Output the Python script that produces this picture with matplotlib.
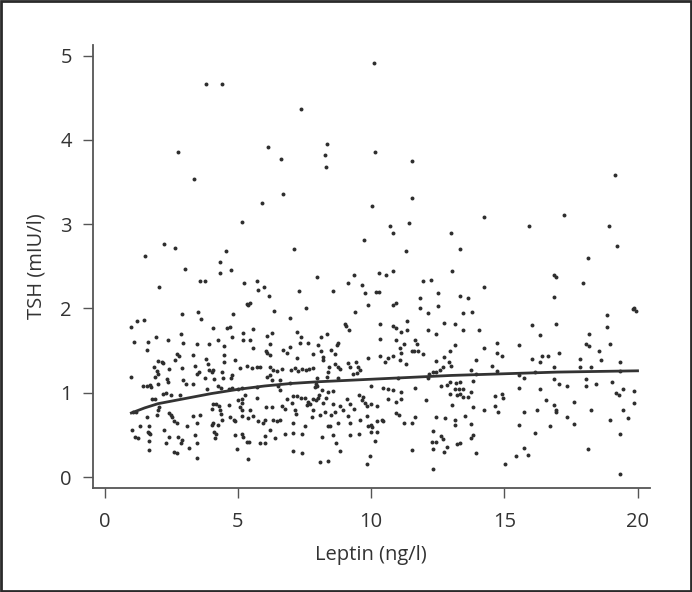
import matplotlib
matplotlib.use("Agg")
import matplotlib.pyplot as plt
from matplotlib.patches import Rectangle

# leptin (ng/l) and TSH (mIU/l), grouped by strip
leptin = [
    # 1-3
    2.05, 2.91, 1.22, 1.48, 1.00, 1.11, 1.64, 1.92, 2.39, 2.86, 2.95, 1.58, 2.70, 2.79, 2.63, 2.01, 2.14, 2.20, 1.86, 1.95,
    2.41, 2.91, 1.00, 1.89, 2.01, 2.33, 2.36, 2.95, 3.05, 1.45, 1.58, 1.70, 1.73, 2.01, 2.18, 2.30, 2.49, 1.76, 1.89, 2.83,
    1.08, 1.18, 2.01, 2.05, 2.43, 2.49, 2.52, 2.60, 2.70, 1.58, 1.95, 3.10, 1.01, 1.33, 1.68, 1.61, 1.66, 1.70, 1.14, 1.26,
    2.24, 2.43, 2.76, 2.89, 2.86, 1.68, 2.29, 1.65, 2.60, 2.73, 3.18,
    # 3-6.6
    3.58, 3.76, 5.24, 5.76, 5.98, 6.18, 5.33, 5.45, 5.39, 3.52, 3.60, 4.80, 6.35, 4.08, 4.60, 4.70, 5.20, 5.58, 6.08, 6.27,
    3.45, 3.93, 4.27, 4.48, 4.77, 5.20, 5.45, 5.58, 6.05, 6.11, 6.20, 6.20, 3.33, 3.81, 3.86, 4.48, 4.49, 4.89, 5.08, 5.33,
    5.52, 5.70, 5.83, 3.38, 3.48, 3.55, 3.93, 4.01, 4.08, 4.39, 4.76, 6.20, 6.30, 6.48, 3.77, 4.10, 4.43, 4.73, 3.33, 3.83,
    4.27, 4.35, 6.08, 6.20, 6.27, 4.68, 4.76, 5.01, 5.16, 5.70, 6.49, 4.08, 4.18, 4.30, 4.68, 5.01, 5.14, 5.17, 5.26, 5.45,
    5.70, 6.05, 6.27, 4.01, 4.33, 4.36, 5.08, 5.14, 3.30, 3.58, 3.45, 4.05, 4.01, 4.27, 4.39, 4.72, 4.86, 4.89, 5.17, 5.39,
    5.58, 5.76, 5.95, 6.01, 6.30, 6.48, 6.58, 3.39, 3.45, 4.10, 4.18, 4.14, 4.89, 5.14, 5.20, 5.33, 5.43, 6.01, 6.20, 5.83,
    6.01, 6.39, 4.98, 3.48, 5.37,
    # 6.6-10
    7.29, 8.58, 9.14, 9.64, 9.76, 9.89, 7.55, 6.95, 9.39, 9.02, 9.05, 9.18, 7.23, 7.35, 7.64, 8.11, 8.36, 6.68, 6.85, 6.95,
    7.33, 7.83, 8.01, 8.10, 8.18, 8.20, 8.51, 8.64, 8.76, 8.73, 9.89, 7.23, 6.64, 6.99, 7.15, 7.27, 7.39, 7.55, 7.68, 7.80,
    8.43, 8.39, 8.64, 8.76, 8.83, 9.14, 9.20, 9.51, 9.58, 9.45, 9.33, 9.48, 6.58, 6.95, 7.95, 8.76, 8.33, 7.93, 7.95, 7.89,
    8.14, 8.39, 8.58, 6.58, 7.08, 7.23, 7.35, 7.52, 7.83, 7.93, 8.01, 8.05, 7.64, 7.58, 7.70, 6.83, 7.02, 7.14, 7.18, 6.64,
    6.77, 8.20, 8.30, 8.58, 9.08, 9.20, 9.35, 9.64, 9.70, 9.76, 9.85, 9.55, 7.83, 8.08, 8.27, 8.51, 8.64, 8.83, 8.96, 7.08,
    7.52, 7.77, 8.39, 8.45, 8.76, 9.14, 9.20, 9.58, 9.83, 9.89, 6.77, 7.08, 7.39, 8.14, 8.58, 9.20, 9.55, 8.70, 8.83, 7.05,
    7.39, 8.08, 8.39, 9.85,
    # 10-13.3
    11.93, 12.23, 10.20, 10.30, 12.52, 11.83, 13.33, 10.83, 10.93, 11.83, 12.14, 12.52, 10.33, 12.73, 13.13, 10.33, 10.83, 10.93, 11.14, 11.33,
    11.33, 12.14, 12.43, 10.93, 11.23, 11.10, 11.14, 11.64, 11.73, 11.52, 11.60, 11.77, 11.95, 10.33, 13.14, 12.95, 10.52, 10.64, 10.83, 11.10,
    11.30, 12.45, 12.73, 12.93, 13.01, 12.70, 12.58, 12.45, 12.33, 12.18, 12.14, 10.01, 10.43, 10.64, 10.83, 11.14, 11.00, 11.64, 12.64, 12.83,
    12.95, 13.18, 13.14, 13.30, 13.35, 12.95, 13.23, 10.64, 10.93, 11.14, 12.05, 10.01, 10.23, 13.05, 10.95, 11.05, 11.64, 11.52, 11.23, 12.45,
    12.77, 13.14, 13.14, 10.23, 10.39, 10.45, 10.01, 10.05, 10.01, 10.23, 12.33, 12.64, 12.70, 12.45, 12.27, 10.14, 12.83, 13.23, 13.33, 12.33,
    12.73, 11.55, 9.95, 12.33,
    # 13.3-16.7
    14.23, 13.64, 13.45, 13.77, 13.45, 14.05, 16.05, 16.35, 14.23, 14.73, 15.55, 14.73, 14.93, 13.93, 16.05, 16.35, 16.43, 16.65, 14.54, 13.74,
    13.95, 14.74, 15.55, 15.73, 16.14, 13.83, 13.45, 13.74, 13.33, 13.43, 13.64, 14.64, 14.93, 14.95, 15.55, 16.35, 16.55, 13.83, 14.64, 14.23,
    14.77, 15.73, 16.23, 13.54, 13.74, 15.55, 16.73, 13.83, 13.74, 16.14, 13.93, 15.73, 15.45, 15.87, 15.04,
    # 16.7-20
    17.95, 16.85, 16.95, 18.85, 18.85, 19.83, 19.93, 19.86, 18.17, 18.05, 18.17, 18.95, 17.05, 18.55, 17.85, 18.64, 16.85, 17.85, 18.27, 19.35,
    19.35, 16.85, 17.05, 17.35, 18.05, 18.05, 18.45, 19.05, 19.45, 19.20, 19.32, 19.86, 19.85, 17.62, 16.85, 16.95, 16.95, 18.25, 19.45, 17.35,
    17.62, 18.95, 19.64, 19.35, 18.15, 19.35,
    # high TSH
    10.12, 3.79, 4.39, 7.35, 8.33, 6.14, 8.25, 8.30, 2.75, 10.13, 6.62, 11.52, 3.34, 6.69, 19.16, 11.52, 5.91, 10.03, 14.24, 17.24,
    5.17, 11.44, 10.71, 15.93, 18.94, 10.81, 13.01, 9.74, 19.24, 2.22, 2.65, 7.12, 13.34, 11.31, 4.57, 1.51, 18.15, 4.34, 3.03, 4.74,
    4.31, 10.83, 13.03, 10.31, 9.37, 10.55, 16.87, 16.94, 7.95, 5.70,
]
tsh = [
    # 1-3
    2.26, 1.93, 1.85, 1.86, 1.78, 1.60, 1.60, 1.66, 1.62, 1.70, 1.59, 1.51, 1.46, 1.44, 1.39, 1.38, 1.36, 1.35, 1.30, 1.26,
    1.28, 1.29, 1.19, 1.19, 1.22, 1.16, 1.13, 1.15, 1.10, 1.08, 1.08, 1.09, 1.07, 1.10, 0.98, 1.00, 0.97, 0.92, 0.92, 0.97,
    0.77, 0.77, 0.80, 0.83, 0.76, 0.74, 0.71, 0.66, 0.64, 0.71, 0.74, 0.60, 0.56, 0.60, 0.60, 0.54, 0.52, 0.51, 0.47, 0.46,
    0.56, 0.47, 0.48, 0.44, 0.40, 0.43, 0.40, 0.32, 0.30, 0.28, 0.35,
    # 3-6.6
    2.32, 2.32, 2.30, 2.22, 2.26, 2.15, 2.05, 2.07, 2.04, 1.96, 1.87, 1.93, 1.97, 1.77, 1.77, 1.78, 1.71, 1.76, 1.67, 1.71,
    1.58, 1.58, 1.63, 1.55, 1.66, 1.63, 1.63, 1.53, 1.50, 1.47, 1.45, 1.58, 1.45, 1.40, 1.34, 1.45, 1.37, 1.39, 1.29, 1.32,
    1.29, 1.31, 1.30, 1.32, 1.22, 1.24, 1.27, 1.25, 1.27, 1.25, 1.21, 1.31, 1.27, 1.26, 1.18, 1.16, 1.17, 1.18, 1.10, 1.05,
    1.08, 1.06, 1.19, 1.21, 1.15, 1.05, 1.06, 1.05, 1.06, 1.07, 1.08, 0.87, 0.87, 0.84, 0.85, 0.91, 0.92, 0.88, 0.97, 0.80,
    0.94, 0.83, 0.83, 0.81, 0.80, 0.75, 0.83, 0.79, 0.72, 0.74, 0.64, 0.64, 0.62, 0.62, 0.68, 0.71, 0.68, 0.66, 0.72, 0.70,
    0.72, 0.66, 0.64, 0.68, 0.68, 0.66, 0.68, 0.50, 0.40, 0.54, 0.51, 0.46, 0.50, 0.51, 0.47, 0.42, 0.41, 0.49, 0.56, 0.40,
    0.40, 0.46, 0.33, 0.22, 0.21,
    # 6.6-10
    2.21, 2.21, 2.30, 2.28, 2.18, 2.04, 2.00, 1.89, 1.96, 1.82, 1.79, 1.74, 1.72, 1.66, 1.59, 1.66, 1.70, 1.51, 1.47, 1.54,
    1.59, 1.46, 1.57, 1.50, 1.42, 1.39, 1.51, 1.46, 1.59, 1.57, 1.41, 1.41, 1.28, 1.27, 1.29, 1.26, 1.28, 1.27, 1.28, 1.29,
    1.30, 1.25, 1.34, 1.30, 1.28, 1.35, 1.30, 1.30, 1.27, 1.37, 1.22, 1.23, 1.15, 1.11, 1.18, 1.17, 1.19, 1.10, 1.08, 1.07,
    1.03, 1.01, 1.02, 1.03, 0.96, 0.96, 0.94, 0.94, 0.93, 0.91, 0.94, 0.97, 0.89, 0.85, 0.87, 0.92, 0.88, 0.79, 0.75, 0.84,
    0.81, 0.88, 0.94, 0.87, 0.92, 0.87, 0.81, 0.91, 0.95, 0.88, 0.84, 0.97, 0.79, 0.74, 0.77, 0.74, 0.77, 0.84, 0.79, 0.64,
    0.60, 0.71, 0.60, 0.60, 0.64, 0.72, 0.64, 0.68, 0.72, 0.60, 0.51, 0.52, 0.51, 0.48, 0.50, 0.50, 0.51, 0.40, 0.31, 0.31,
    0.29, 0.18, 0.19, 0.16,
    # 10-13.3
    2.32, 2.34, 2.19, 2.20, 2.18, 2.12, 2.15, 2.04, 2.07, 2.00, 1.95, 2.03, 1.82, 1.83, 1.82, 1.64, 1.79, 1.77, 1.72, 1.75,
    1.85, 1.74, 1.70, 1.62, 1.58, 1.53, 1.47, 1.62, 1.58, 1.50, 1.49, 1.50, 1.46, 1.43, 1.57, 1.50, 1.37, 1.41, 1.43, 1.39,
    1.34, 1.38, 1.42, 1.36, 1.32, 1.30, 1.27, 1.25, 1.24, 1.22, 1.18, 1.08, 1.06, 1.04, 1.03, 1.01, 1.18, 1.06, 1.08, 1.09,
    1.13, 1.11, 1.05, 1.05, 1.13, 0.99, 0.97, 0.93, 0.89, 0.92, 0.91, 0.87, 0.84, 0.85, 0.76, 0.74, 0.71, 0.64, 0.64, 0.71,
    0.70, 0.68, 0.62, 0.67, 0.68, 0.66, 0.62, 0.59, 0.53, 0.54, 0.55, 0.49, 0.45, 0.42, 0.41, 0.43, 0.36, 0.39, 0.40, 0.33,
    0.30, 0.32, 0.25, 0.09,
    # 13.3-16.7
    2.26, 2.12, 1.94, 1.96, 1.74, 1.75, 1.80, 1.68, 1.53, 1.59, 1.57, 1.47, 1.43, 1.39, 1.40, 1.37, 1.43, 1.43, 1.32, 1.27,
    1.22, 1.26, 1.21, 1.17, 1.25, 1.14, 1.05, 1.01, 0.99, 0.95, 0.95, 0.96, 0.99, 0.94, 1.06, 1.04, 0.91, 0.83, 0.84, 0.79,
    0.77, 0.77, 0.79, 0.72, 0.63, 0.62, 0.61, 0.50, 0.46, 0.52, 0.28, 0.34, 0.25, 0.26, 0.15,
    # 16.7-20
    2.30, 2.14, 1.82, 1.92, 1.78, 1.99, 1.97, 2.00, 1.70, 1.58, 1.55, 1.58, 1.47, 1.50, 1.40, 1.39, 1.30, 1.30, 1.30, 1.37,
    1.26, 1.16, 1.10, 1.08, 1.16, 1.08, 1.10, 1.13, 1.04, 1.00, 0.97, 1.02, 0.88, 0.89, 0.85, 0.80, 0.77, 0.79, 0.80, 0.71,
    0.63, 0.68, 0.70, 0.51, 0.33, 0.04,
    # high TSH
    4.91, 4.66, 4.66, 4.36, 3.95, 3.92, 3.82, 3.68, 3.85, 3.86, 3.77, 3.75, 3.54, 3.36, 3.58, 3.31, 3.25, 3.21, 3.09, 3.11,
    3.03, 3.01, 2.98, 2.98, 2.98, 2.89, 2.89, 2.81, 2.74, 2.77, 2.72, 2.71, 2.70, 2.68, 2.68, 2.62, 2.60, 2.55, 2.47, 2.46,
    2.42, 2.44, 2.44, 2.42, 2.40, 2.40, 2.40, 2.37, 2.37, 2.33,
]

# fitted curve
fit_x = [1, 1.5, 2, 3, 4, 5, 6, 7, 8, 9, 10, 11, 12, 13, 14, 15, 16, 17, 18, 19, 20]
fit_y = [0.76, 0.82, 0.87, 0.93, 0.99, 1.04, 1.08, 1.11, 1.13, 1.145, 1.16, 1.175, 1.19, 1.205,
         1.215, 1.225, 1.235, 1.245, 1.25, 1.255, 1.26]

x_ticks = [0, 5, 10, 15, 20]
y_ticks = [0, 1, 2, 3, 4, 5]

plt.rcParams['font.family'] = ['Open Sans', 'DejaVu Sans']

fig = plt.figure(figsize=(6.92, 5.92), dpi=100)
ax = fig.add_axes([0.134, 0.1757, 0.805, 0.749])

ax.scatter(leptin, tsh, s=8, color='#2e2e2e', linewidths=0, zorder=2)
ax.plot(fit_x, fit_y, color='#333333', linewidth=2.0, zorder=3)

ax.set_xlim(-0.45, 20.46)
ax.set_ylim(-0.13, 5.13)
ax.set_xticks(x_ticks)
ax.set_yticks(y_ticks)

for side in ['top', 'right']:
    ax.spines[side].set_visible(False)
for side in ['left', 'bottom']:
    ax.spines[side].set_color('#555555')
    ax.spines[side].set_linewidth(1.3)

ax.tick_params(axis='both', direction='out', length=7, width=1.0, color='#555555',
               labelsize=14.5, labelcolor='#333333')
ax.tick_params(axis='x', pad=10)
ax.tick_params(axis='y', pad=8)
ax.set_xlabel('Leptin (ng/l)', fontsize=14.5, color='#333333', labelpad=10)
ax.set_ylabel('TSH (mIU/l)', fontsize=14.5, color='#333333', labelpad=10)

# dark frame round the whole figure
fig.patches.append(Rectangle((0.0015, 0.002), 0.997, 0.996, transform=fig.transFigure,
                             fill=False, edgecolor='#2a2a2a', linewidth=2))

fig.savefig('out.png', dpi=100)
